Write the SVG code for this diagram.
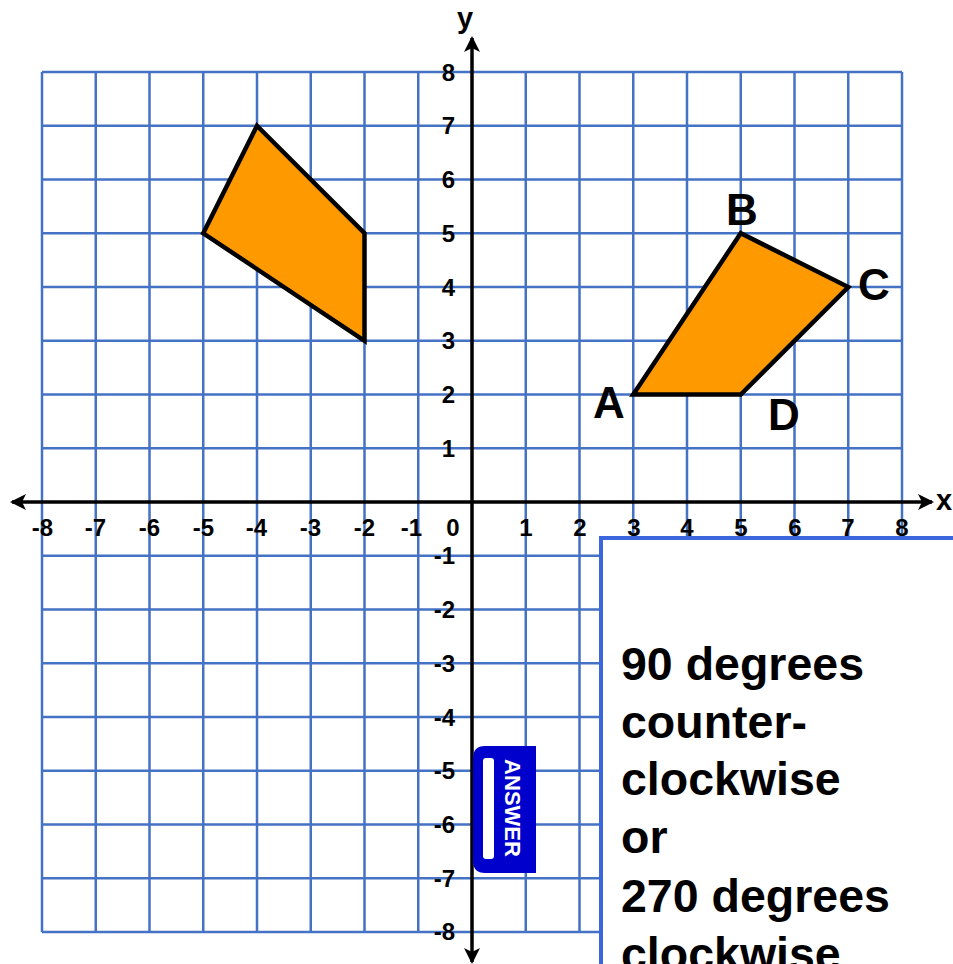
<svg xmlns="http://www.w3.org/2000/svg" width="953" height="964" viewBox="0 0 953 964">
<style>
.grid{stroke:#4472c4;stroke-width:2.5;fill:none}
.axis{stroke:#000;stroke-width:3.5;fill:none}
.num{font-family:"Liberation Sans",Arial,sans-serif;font-weight:bold;font-size:24px;fill:#000}
.pt{font-family:"Liberation Sans",Arial,sans-serif;font-weight:bold;font-size:44px;fill:#000}
.shape{fill:#ff9900;stroke:#000;stroke-width:4.5;stroke-linejoin:miter}
.ans{font-family:"Liberation Sans",Arial,sans-serif;font-weight:bold;font-size:46.5px;fill:#000}
</style>
<defs>
<marker id="arr" markerUnits="userSpaceOnUse" markerWidth="20" markerHeight="20" refX="14" refY="8" orient="auto">
<path d="M0,0 L16,8 L0,16 L4,8 z" fill="#000"/>
</marker>
</defs>
<rect width="953" height="964" fill="#fff"/>
<g id="grid">
<path class="grid" d="M42,72V932M95.75,72V932M149.5,72V932M203.25,72V932M257,72V932M310.75,72V932M364.5,72V932M418.25,72V932M525.75,72V932M579.5,72V932M633.25,72V932M687,72V932M740.75,72V932M794.5,72V932M848.25,72V932M902,72V932"/>
<path class="grid" d="M42,72H902M42,125.75H902M42,179.5H902M42,233.25H902M42,287H902M42,340.75H902M42,394.5H902M42,448.25H902M42,555.75H902M42,609.5H902M42,663.25H902M42,717H902M42,770.75H902M42,824.5H902M42,878.25H902M42,932H902"/>
</g>
<g id="axes">
<line class="axis" x1="472" y1="58" x2="472" y2="38" marker-end="url(#arr)"/>
<line class="axis" x1="472" y1="58" x2="472" y2="942"/>
<line class="axis" x1="472" y1="942" x2="472" y2="962" marker-end="url(#arr)"/>
<line class="axis" x1="30" y1="502" x2="12" y2="502" marker-end="url(#arr)"/>
<line class="axis" x1="30" y1="502" x2="915" y2="502"/>
<line class="axis" x1="915" y1="502" x2="932" y2="502" marker-end="url(#arr)"/>
<text class="num" x="465" y="28" text-anchor="middle" style="font-size:29px">y</text>
<text class="num" x="944" y="510" text-anchor="middle" style="font-size:29px">x</text>
</g>
<g id="x-labels" class="num">
<text x="53" y="536" text-anchor="end">-8</text>
<text x="106" y="536" text-anchor="end">-7</text>
<text x="160" y="536" text-anchor="end">-6</text>
<text x="214" y="536" text-anchor="end">-5</text>
<text x="267" y="536" text-anchor="end">-4</text>
<text x="321" y="536" text-anchor="end">-3</text>
<text x="375" y="536" text-anchor="end">-2</text>
<text x="422" y="536" text-anchor="end">-1</text>
<text x="453" y="536" text-anchor="middle">0</text>
<text x="526" y="536" text-anchor="middle">1</text>
<text x="580" y="536" text-anchor="middle">2</text>
<text x="634" y="536" text-anchor="middle">3</text>
<text x="687" y="536" text-anchor="middle">4</text>
<text x="741" y="536" text-anchor="middle">5</text>
<text x="795" y="536" text-anchor="middle">6</text>
<text x="848" y="536" text-anchor="middle">7</text>
<text x="902" y="536" text-anchor="middle">8</text>
</g>
<g id="y-labels" class="num" text-anchor="end">
<text x="455" y="80.5">8</text>
<text x="455" y="134">7</text>
<text x="455" y="188">6</text>
<text x="455" y="241.5">5</text>
<text x="455" y="295.5">4</text>
<text x="455" y="349">3</text>
<text x="455" y="403">2</text>
<text x="455" y="456.5">1</text>
<text x="455" y="564">-1</text>
<text x="455" y="618">-2</text>
<text x="455" y="671.5">-3</text>
<text x="455" y="725.5">-4</text>
<text x="455" y="779">-5</text>
<text x="455" y="833">-6</text>
<text x="455" y="886.5">-7</text>
<text x="455" y="940">-8</text>
</g>
<g id="shape-left">
<polygon class="shape" points="257,125.75 364.5,233.25 364.5,340.75 203.25,233.25"/>
</g>
<g id="shape-abcd">
<polygon class="shape" points="633.25,394.5 740.75,233.25 848.25,287 740.75,394.5"/>
<text class="pt" x="742" y="225" text-anchor="middle">B</text>
<text class="pt" x="874" y="300" text-anchor="middle">C</text>
<text class="pt" x="609" y="418" text-anchor="middle">A</text>
<text class="pt" x="784" y="430" text-anchor="middle">D</text>
</g>
<g id="answer-button">
<path d="M536,746 V873 H485 Q473,873 473,861 V758 Q473,746 485,746 Z" fill="#0000cc"/>
<rect x="483" y="758" width="11" height="101" rx="3" fill="#fff"/>
<text x="512" y="808" transform="rotate(90 512 808)" text-anchor="middle" dominant-baseline="central" style="font-family:'Liberation Sans',Arial,sans-serif;font-weight:bold;font-size:22px;fill:#fff">ANSWER</text>
</g>
<g id="answer-box">
<rect x="601" y="538" width="400" height="460" fill="#fff" stroke="#3c66dc" stroke-width="4"/>
<text class="ans" x="621" y="680">90 degrees</text>
<text class="ans" x="621" y="738">counter-</text>
<text class="ans" x="621" y="795">clockwise</text>
<text class="ans" x="621" y="853">or</text>
<text class="ans" x="621" y="912">270 degrees</text>
<text class="ans" x="621" y="970">clockwise</text>
</g>
</svg>
